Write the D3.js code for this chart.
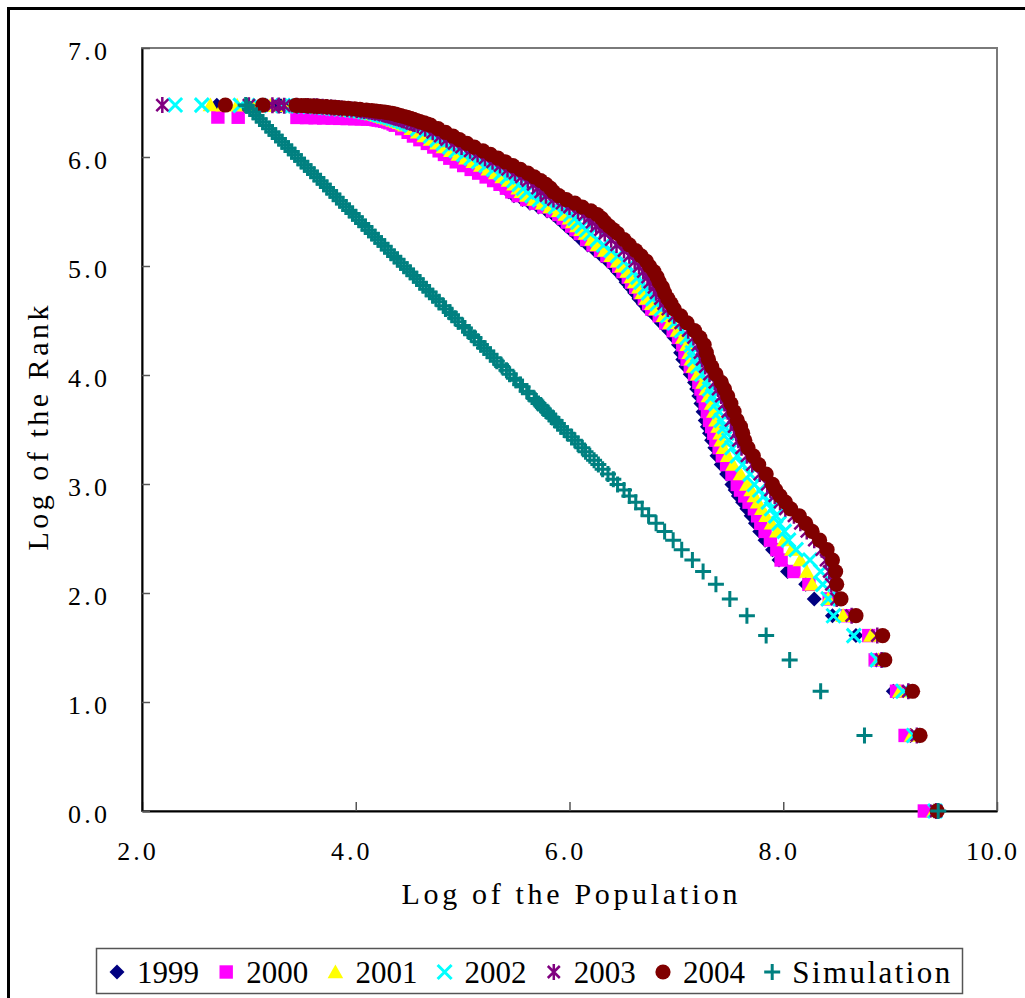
<!DOCTYPE html>
<html>
<head>
<meta charset="utf-8">
<script src="https://cdn.jsdelivr.net/npm/d3@7/dist/d3.min.js"></script>
<style>
  body { margin: 0; background: #fff; }
  svg { display: block; }
  svg text { font-family: "Liberation Serif", "DejaVu Serif", "Noto Serif", serif; fill: #000; }
</style>
</head>
<body>
<svg id="chart" width="1025" height="998"></svg>
<script>
// City rank (shared by the 650-city years)
const ranks = [
  1,2,3,4,5,6,7,8,9,10,11,12,13,14,15,16,17,18,19,20,
  22,24,26,28,30,32,34,36,39,42,45,48,51,55,59,63,67,72,77,82,88,94,100,
  105,110,116,122,128,134,141,148,155,163,171,180,189,200,
  207,214,222,230,238,246,255,264,273,283,293,303,314,325,336,348,360,373,386,399,413,427,442,457,473,489,506,523,540,
  546,552,558,564,570,575,580,585,590,594,598,602,606,609,612,615,618,621,624,627,630,632,634,636,638,640,642,643,644,645,646,647,648,649,650
];

// Natural log of city population at each rank
const logPop1999 = [
  9.41,9.19,9.03,8.87,8.68,8.46,8.29,8.21,8.04,7.96,7.90,7.83,7.78,7.74,7.70,7.66,7.62,7.58,7.55,7.52,
  7.47,7.42,7.38,7.36,7.33,7.31,7.29,7.27,7.25,7.23,7.21,7.19,7.17,7.13,7.09,7.06,7.04,7.02,6.98,6.93,6.86,6.80,6.73,
  6.69,6.65,6.61,6.57,6.53,6.50,6.45,6.41,6.36,6.30,6.24,6.17,6.11,6.05,
  6.01,5.97,5.93,5.89,5.85,5.79,5.71,5.63,5.56,5.48,5.43,5.40,5.35,5.30,5.25,5.19,5.13,5.06,5.00,4.93,4.88,4.82,4.76,4.70,4.64,4.58,4.52,4.46,4.40,
  4.38,4.35,4.32,4.29,4.26,4.24,4.21,4.18,4.15,4.13,4.10,4.07,4.04,4.01,3.98,3.94,3.90,3.86,3.81,3.76,3.71,3.68,3.64,3.61,3.57,3.52,3.47,3.43,3.38,3.30,3.26,2.76,2.70,null,null
];
const logPop2001 = [
  9.41,9.20,9.09,8.89,8.82,8.56,8.42,8.27,8.22,8.16,8.08,8.01,7.94,7.89,7.84,7.80,7.76,7.73,7.70,7.66,
  7.60,7.53,7.48,7.44,7.42,7.41,7.39,7.37,7.35,7.33,7.30,7.28,7.25,7.20,7.16,7.14,7.12,7.10,7.06,7.01,6.94,6.88,6.81,
  6.77,6.72,6.68,6.65,6.61,6.58,6.54,6.49,6.45,6.39,6.33,6.26,6.21,6.15,
  6.11,6.07,6.03,6.00,5.96,5.90,5.82,5.75,5.67,5.60,5.55,5.52,5.48,5.43,5.37,5.31,5.24,5.17,5.10,5.03,4.96,4.89,4.82,4.76,4.70,4.64,4.58,4.52,4.46,
  4.44,4.41,4.38,4.35,4.32,4.29,4.26,4.23,4.20,4.18,4.15,4.12,4.09,4.06,4.03,3.99,3.95,3.91,3.86,3.81,3.76,3.73,3.69,3.66,3.62,3.57,3.51,3.46,3.40,3.32,3.20,3.05,2.89,2.76,2.64
];
const logPop2002 = [
  9.42,9.22,9.12,8.88,8.66,8.47,8.42,8.37,8.35,8.25,8.12,8.05,8.01,7.96,7.93,7.89,7.86,7.82,7.78,7.73,
  7.69,7.62,7.57,7.52,7.49,7.47,7.45,7.42,7.40,7.37,7.34,7.31,7.29,7.24,7.20,7.17,7.15,7.14,7.10,7.05,6.98,6.92,6.86,
  6.82,6.78,6.74,6.71,6.67,6.64,6.60,6.55,6.51,6.45,6.39,6.32,6.26,6.20,
  6.16,6.12,6.08,6.05,6.01,5.95,5.87,5.80,5.72,5.65,5.60,5.57,5.53,5.48,5.42,5.36,5.29,5.22,5.15,5.08,5.01,4.94,4.88,4.82,4.76,4.70,4.64,4.58,4.52,
  4.50,4.47,4.44,4.41,4.38,4.35,4.32,4.29,4.26,4.23,4.21,4.18,4.14,4.11,4.08,4.04,4.00,3.96,3.91,3.86,3.81,3.78,3.74,3.71,3.67,3.63,3.57,3.52,3.46,3.40,3.32,3.10,2.92,2.56,2.31
];
const logPop2003 = [
  9.43,9.25,9.17,8.92,8.88,8.64,8.50,8.45,8.43,8.40,8.36,8.29,8.22,8.16,8.10,8.02,7.97,7.92,7.88,7.85,
  7.78,7.71,7.66,7.61,7.58,7.56,7.54,7.51,7.48,7.45,7.42,7.39,7.36,7.31,7.27,7.24,7.22,7.20,7.16,7.11,7.04,6.98,6.92,
  6.88,6.85,6.81,6.79,6.75,6.73,6.69,6.65,6.61,6.56,6.51,6.44,6.39,6.33,
  6.29,6.25,6.21,6.18,6.14,6.08,6.00,5.93,5.85,5.78,5.73,5.70,5.66,5.61,5.55,5.49,5.42,5.35,5.28,5.21,5.14,5.07,4.99,4.92,4.85,4.79,4.72,4.65,4.58,
  4.55,4.52,4.48,4.45,4.42,4.39,4.36,4.33,4.30,4.27,4.25,4.22,4.18,4.15,4.12,4.08,4.05,4.01,3.96,3.92,3.87,3.84,3.80,3.77,3.73,3.69,3.64,3.61,3.55,3.45,3.33,3.28,3.22,3.00,2.19
];
const logPop2004 = [
  9.44,9.28,9.21,8.95,8.93,8.68,8.54,8.50,8.49,8.46,8.41,8.34,8.27,8.21,8.15,8.07,8.02,7.97,7.93,7.90,
  7.84,7.77,7.72,7.67,7.64,7.62,7.60,7.57,7.54,7.51,7.48,7.45,7.42,7.37,7.33,7.30,7.28,7.26,7.22,7.17,7.10,7.04,6.98,
  6.95,6.92,6.89,6.87,6.84,6.82,6.79,6.75,6.72,6.67,6.62,6.56,6.51,6.45,
  6.41,6.37,6.33,6.30,6.26,6.20,6.12,6.05,5.97,5.90,5.85,5.82,5.78,5.73,5.67,5.61,5.54,5.47,5.40,5.33,5.26,5.19,5.11,5.04,4.97,4.91,4.84,4.77,4.70,
  4.67,4.64,4.60,4.57,4.54,4.51,4.48,4.45,4.42,4.39,4.37,4.34,4.30,4.27,4.23,4.19,4.15,4.10,4.04,3.99,3.93,3.89,3.85,3.81,3.77,3.72,3.66,3.63,3.60,3.57,3.53,3.49,3.44,3.13,2.78
];

// 2000 has fewer cities (582)
const ranks2000 = ranks.filter(r => r <= 540).concat([
  546,552,556,560,563,566,568,570,571,572,573,574,575,576,577,578,579,580,581,582
]);
const logPop2000 = [
  9.32,9.14,9.06,8.86,8.80,8.60,8.43,8.24,8.10,7.98,7.94,7.88,7.83,7.79,7.76,7.73,7.68,7.64,7.60,7.57,
  7.52,7.47,7.43,7.40,7.37,7.35,7.33,7.31,7.29,7.27,7.25,7.23,7.21,7.17,7.13,7.10,7.08,7.06,7.02,6.97,6.90,6.84,6.77,
  6.74,6.70,6.66,6.62,6.58,6.55,6.50,6.46,6.41,6.35,6.29,6.22,6.16,6.10,
  6.06,6.02,5.98,5.94,5.90,5.84,5.76,5.68,5.60,5.52,5.46,5.41,5.35,5.29,5.22,5.15,5.08,5.01,4.94,4.88,4.83,4.78,4.73,4.67,4.60,4.54,4.49,4.43,4.37,
  4.35,4.32,4.30,4.27,4.24,4.21,4.19,4.16,4.11,4.05,3.99,3.92,3.85,3.78,3.70,3.62,3.54,3.45,2.90,2.71
];

// Simulated rank-size series
const simRanks = [
  1,2,3,4,5,6,7,8,9,10,11,12,13,14,15,16,17,18,19,20,21,22,23,24,25,26,27,28,29,30,31,32,33,34,35,36,37,38,39,40,41,42,43,
  44,46,47,49,50,52,53,55,57,59,60,62,64,66,68,70,72,74,77,79,81,84,86,89,92,95,97,100,103,107,
  110,113,117,120,124,128,132,136,140,144,148,153,158,162,167,172,178,183,189,194,
  200,206,213,219,226,233,240,247,255,262,270,279,287,296,305,314,324,334,344,354,
  365,376,388,399,412,424,437,450,464,478,493,508,523,539,556,573,590,608,627,646,650
];
const logPopSim = [
  9.45,8.76,8.35,8.06,7.84,7.66,7.50,7.37,7.25,7.15,7.05,6.97,6.89,6.81,6.74,6.68,6.62,6.56,6.51,6.45,6.41,6.36,6.31,6.27,6.23,6.19,6.15,6.12,6.08,6.05,6.02,5.98,5.95,5.92,5.89,5.87,5.84,5.81,5.79,5.76,5.74,5.71,5.69,
  5.67,5.62,5.60,5.56,5.54,5.50,5.48,5.44,5.41,5.37,5.36,5.32,5.29,5.26,5.23,5.20,5.17,5.15,5.11,5.08,5.06,5.02,5.00,4.96,4.93,4.90,4.88,4.84,4.82,4.78,
  4.75,4.72,4.69,4.66,4.63,4.60,4.57,4.54,4.51,4.48,4.45,4.42,4.39,4.36,4.33,4.30,4.27,4.24,4.21,4.18,
  4.15,4.12,4.09,4.06,4.03,4.00,3.97,3.94,3.91,3.88,3.85,3.82,3.79,3.76,3.73,3.70,3.67,3.64,3.61,3.58,
  3.55,3.52,3.49,3.46,3.43,3.40,3.37,3.34,3.31,3.28,3.25,3.22,3.19,3.16,3.13,3.10,3.07,3.04,3.01,2.98,2.97
];

const seriesNames = ["1999", "2000", "2001", "2002", "2003", "2004", "Simulation"];
const xTickValues = [2, 4, 6, 8, 10];
const yTickValues = [0, 1, 2, 3, 4, 5, 6, 7];

const FONT = "'Liberation Serif', 'DejaVu Serif', 'Noto Serif', serif";

// ---- layout ----
const svg = d3.select("#chart");
const plot = { left: 142, top: 48, right: 997, bottom: 811 };

const x = d3.scaleLinear().domain([2, 10]).range([plot.left, plot.right]);
const y = d3.scaleLinear().domain([0, 7]).range([plot.bottom, plot.top]);

// outer chart frame (left and top edges visible)
svg.append("path")
  .attr("d", "M8.5,998V8.5H1025")
  .attr("fill", "none")
  .attr("stroke", "#000")
  .attr("stroke-width", 3);

// plot area border
svg.append("rect")
  .attr("x", plot.left).attr("y", plot.top)
  .attr("width", plot.right - plot.left).attr("height", plot.bottom - plot.top)
  .attr("fill", "none")
  .attr("stroke", "#7a7a7a")
  .attr("stroke-width", 2);

const fmt = d3.format(".1f");

// x axis, ticks pointing into the plot
const gx = svg.append("g")
  .attr("transform", `translate(0,${plot.bottom})`)
  .call(d3.axisBottom(x).tickValues(xTickValues).tickFormat(fmt).tickSizeInner(-9).tickSizeOuter(0));
gx.attr("font-family", FONT);
gx.select(".domain").attr("stroke", "#000").attr("stroke-width", 2);
gx.selectAll(".tick line").attr("stroke", "#555").attr("stroke-width", 1.5);
gx.selectAll(".tick text")
  .attr("y", 49).attr("dy", null).attr("x", -6)
  .attr("font-size", 26)
  .attr("font-family", FONT)
  .attr("fill", "#000")
  .attr("textLength", d => fmt(d).length * 12.8)
  .attr("lengthAdjust", "spacing");

// y axis, ticks pointing into the plot
const gy = svg.append("g")
  .attr("transform", `translate(${plot.left},0)`)
  .call(d3.axisLeft(y).tickValues(yTickValues).tickFormat(fmt).tickSizeInner(-8).tickSizeOuter(0));
gy.attr("font-family", FONT);
gy.select(".domain").attr("stroke", "#000").attr("stroke-width", 2);
gy.selectAll(".tick line").attr("stroke", "#555").attr("stroke-width", 1.5);
gy.selectAll(".tick text")
  .attr("x", -35).attr("y", 11).attr("dy", null)
  .attr("font-size", 26)
  .attr("font-family", FONT)
  .attr("fill", "#000")
  .attr("textLength", d => fmt(d).length * 13)
  .attr("lengthAdjust", "spacing");

// axis titles
svg.append("text")
  .attr("x", (plot.left + plot.right) / 2).attr("y", 904)
  .attr("text-anchor", "middle")
  .attr("font-family", FONT)
  .attr("font-size", 30)
  .attr("textLength", 336).attr("lengthAdjust", "spacing")
  .text("Log of the Population");

svg.append("text")
  .attr("transform", "translate(48,428) rotate(-90)")
  .attr("text-anchor", "middle")
  .attr("font-family", FONT)
  .attr("font-size", 30)
  .attr("textLength", 245).attr("lengthAdjust", "spacing")
  .text("Log of the Rank");

// ---- markers ----
const shapes = {
  diamond:  { d: "M0,-7.5L7.5,0L0,7.5L-7.5,0Z", fill: true },
  square:   { d: "M-6.7,-6.7H6.7V6.7H-6.7Z", fill: true },
  triangle: { d: "M0,-7.6L7.8,6.2L-7.8,6.2Z", fill: true },
  cross:    { d: "M-7,-7L7,7M-7,7L7,-7", fill: false, width: 3 },
  star:     { d: "M-6,-6L6,6M-6,6L6,-6M0,-8V8", fill: false, width: 2.5 },
  circle:   { d: d3.symbol(d3.symbolCircle, Math.PI * 7.6 * 7.6)(), fill: true },
  plus:     { d: "M-8,0H8M0,-8V8", fill: false, width: 3 }
};

const series = [
  { name: seriesNames[0], ranks: ranks,     values: logPop1999, color: "#000080", shape: "diamond" },
  { name: seriesNames[1], ranks: ranks2000, values: logPop2000, color: "#FF00FF", shape: "square" },
  { name: seriesNames[2], ranks: ranks,     values: logPop2001, color: "#FFFF00", shape: "triangle" },
  { name: seriesNames[3], ranks: ranks,     values: logPop2002, color: "#00FFFF", shape: "cross" },
  { name: seriesNames[4], ranks: ranks,     values: logPop2003, color: "#800080", shape: "star" },
  { name: seriesNames[5], ranks: ranks,     values: logPop2004, color: "#800000", shape: "circle" },
  { name: seriesNames[6], ranks: simRanks,  values: logPopSim,  color: "#008080", shape: "plus" }
];

function styleMarker(sel, s) {
  const sh = shapes[s.shape];
  sel.attr("d", sh.d);
  if (sh.fill) {
    sel.attr("fill", s.color).attr("stroke", "none");
  } else {
    sel.attr("fill", "none").attr("stroke", s.color).attr("stroke-width", sh.width);
  }
}

series.forEach(s => {
  const pts = s.ranks
    .map((r, i) => ({ rank: r, logPop: s.values[i] }))
    .filter(d => d.logPop != null);
  svg.append("g")
    .attr("class", "series")
    .selectAll("path")
    .data(pts)
    .join("path")
    .attr("transform", d => `translate(${x(d.logPop)},${y(Math.log(d.rank))})`)
    .call(styleMarker, s);
});

// ---- legend ----
const legend = svg.append("g");
legend.append("rect")
  .attr("x", 96.5).attr("y", 948.5)
  .attr("width", 866).attr("height", 45)
  .attr("fill", "#fff")
  .attr("stroke", "#555")
  .attr("stroke-width", 1.5);

const legendX0 = 117, legendStep = 109.2, legendY = 972;
series.forEach((s, i) => {
  const cx = legendX0 + i * legendStep;
  legend.append("path")
    .attr("transform", `translate(${cx},${legendY})`)
    .call(styleMarker, s);
  const t = legend.append("text")
    .attr("x", cx + 20).attr("y", 983)
    .attr("font-family", FONT)
    .attr("font-size", 31)
    .text(s.name);
  if (s.name.length > 4) t.attr("textLength", 158).attr("lengthAdjust", "spacing");
});
</script>
</body>
</html>
